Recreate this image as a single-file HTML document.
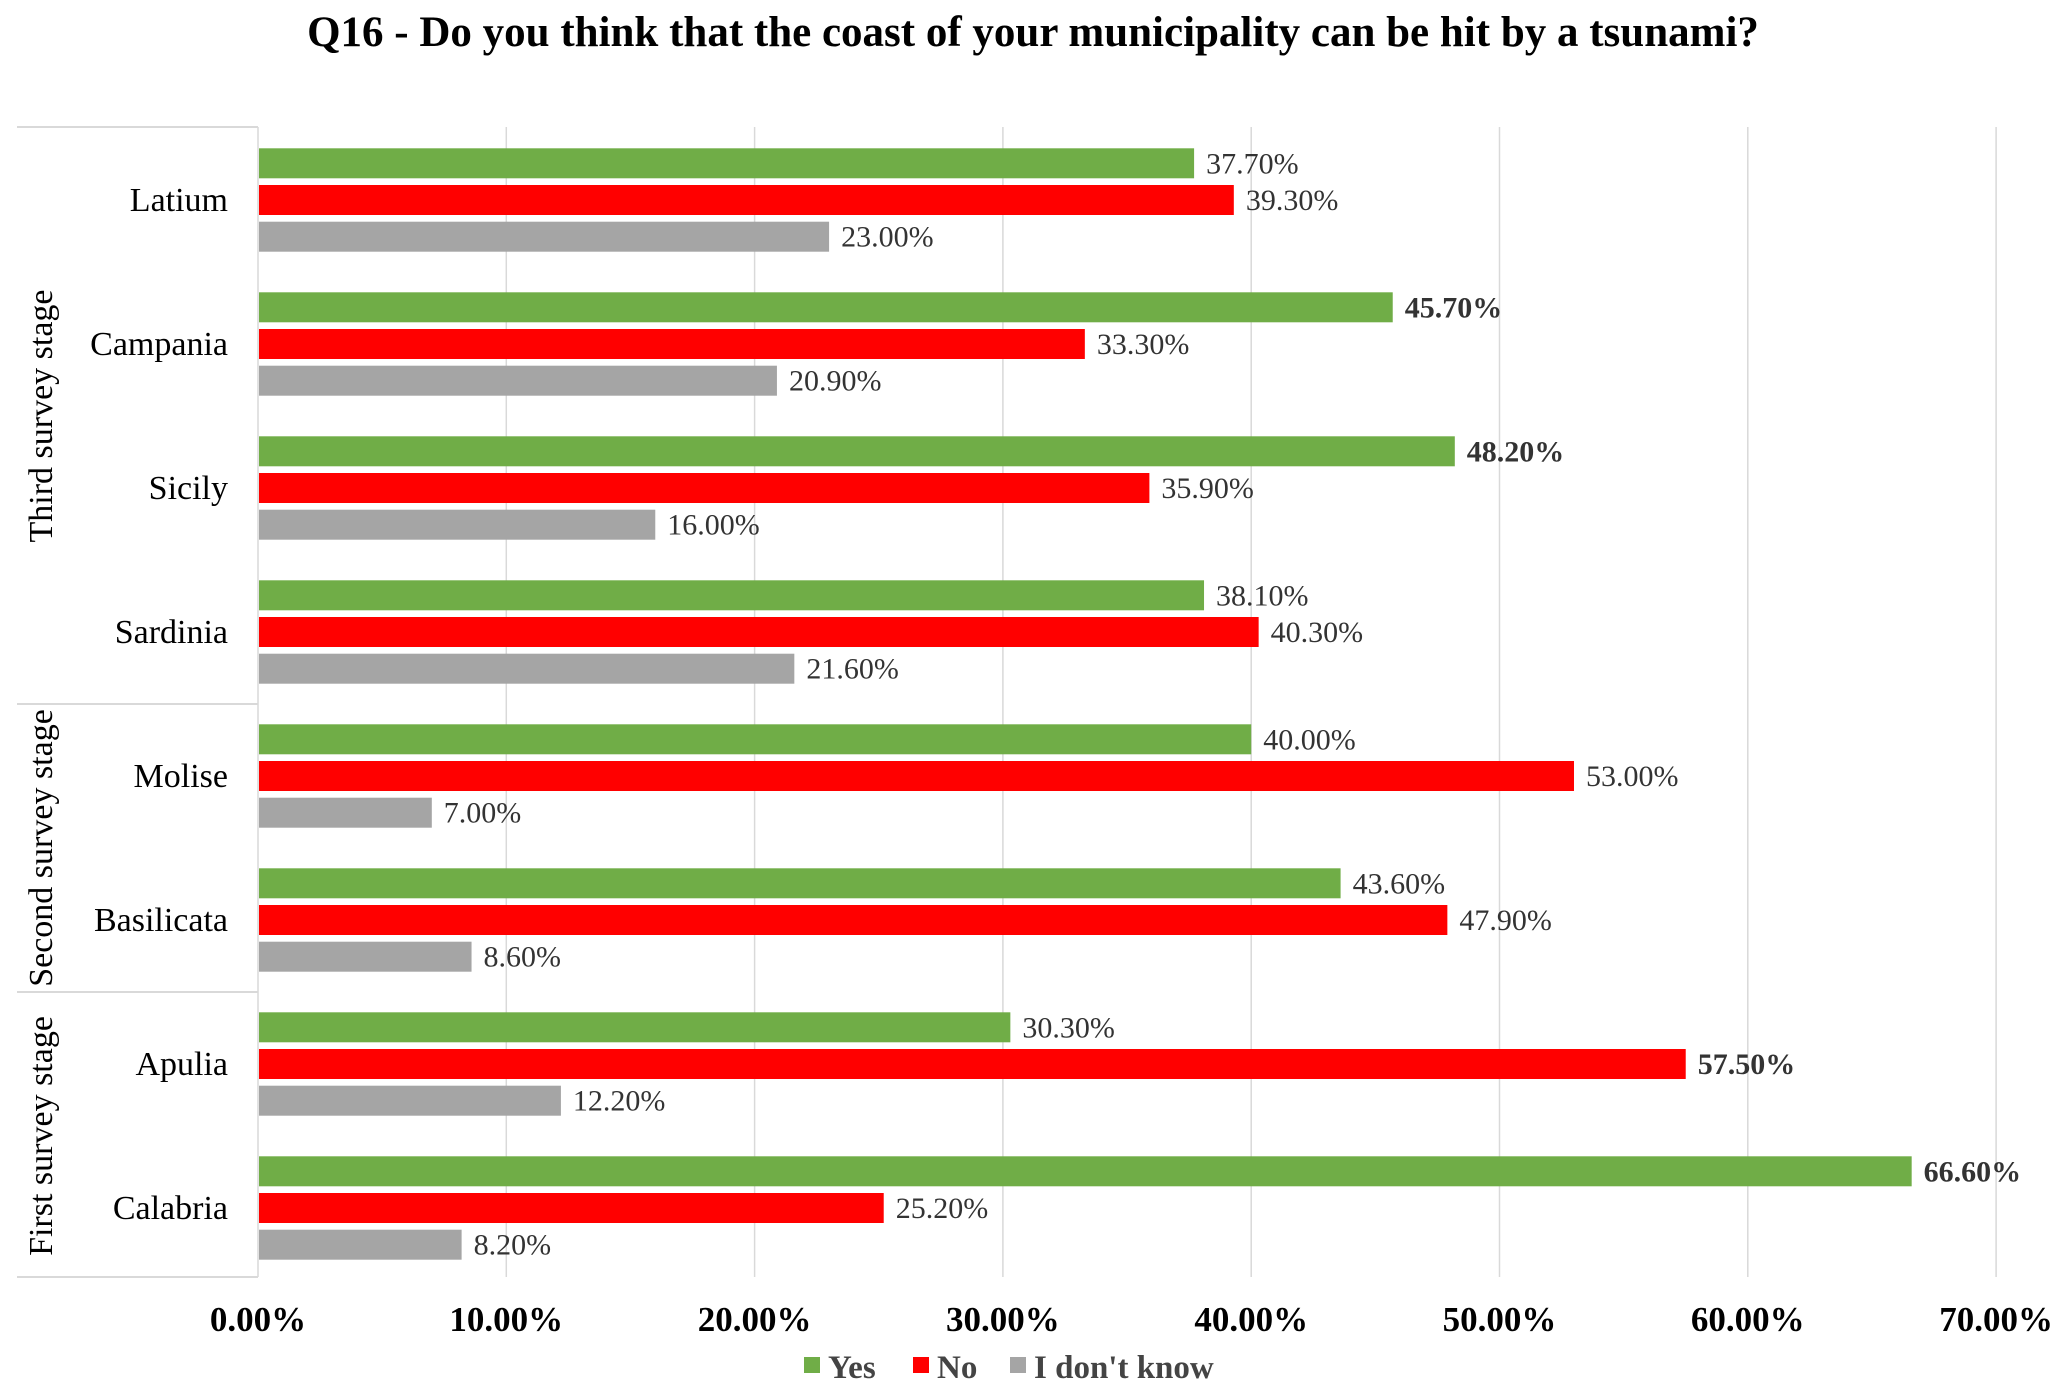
<!DOCTYPE html>
<html><head><meta charset="utf-8"><style>
html,body{margin:0;padding:0;background:#fff;}
svg{display:block;font-family:"Liberation Serif",serif;}
</style></head><body>
<svg id="chart" width="2067" height="1396" viewBox="0 0 2067 1396">
<text x="1033" y="46" text-anchor="middle" font-size="43" font-weight="bold">Q16 - Do you think that the coast of your municipality can be hit by a tsunami?</text>
<g id="grid"></g><g id="frame"></g><g id="bars"></g><g id="labels"></g><g id="legend"></g>
</svg>
<script>
const categories = ["Latium","Campania","Sicily","Sardinia","Molise","Basilicata","Apulia","Calabria"];
const yesValues = [37.7,45.7,48.2,38.1,40.0,43.6,30.3,66.6];
const noValues = [39.3,33.3,35.9,40.3,53.0,47.9,57.5,25.2];
const dkValues = [23.0,20.9,16.0,21.6,7.0,8.6,12.2,8.2];
const boldYes = [false,true,true,false,false,false,false,true];
const boldNo = [false,false,false,false,false,false,true,false];
const ticks = [0,10,20,30,40,50,60,70];
const groups = [{name:"Third survey stage",from:0,to:3},{name:"Second survey stage",from:4,to:5},{name:"First survey stage",from:6,to:7}];

const NS="http://www.w3.org/2000/svg";
const X0=258, PX=24.83, TOP=127, BOT=1277, Y0=200, STEP=144, BH=30, OFF=36.7;
const x=v=>X0+v*PX;
const yc=i=>Y0+i*STEP;
function mk(tag,attrs,parent,text){const e=document.createElementNS(NS,tag);for(const k in attrs)e.setAttribute(k,attrs[k]);if(text!==undefined)e.textContent=text;parent.appendChild(e);return e;}
const grid=document.getElementById('grid'),frame=document.getElementById('frame'),bars=document.getElementById('bars'),labels=document.getElementById('labels'),legend=document.getElementById('legend');

ticks.forEach(t=>{
  if(t>0){const l=mk('line',{x1:x(t),x2:x(t),y1:TOP,y2:BOT,stroke:'#d9d9d9','stroke-width':1.5},grid);
  
  }
  const tx=mk('text',{x:x(t),y:1331,'text-anchor':'middle','font-size':35,'font-weight':'bold'},labels,t.toFixed(2)+'%');
  
  
});
const ax=mk('line',{x1:X0,x2:X0,y1:TOP,y2:BOT,stroke:'#d9d9d9','stroke-width':1.5},frame);


const boundaries=[TOP, yc(4)-STEP/2, yc(6)-STEP/2, BOT];
boundaries.forEach((b,k)=>{const l=mk('line',{x1:17,x2:X0,y1:b,y2:b,stroke:'#d9d9d9','stroke-width':2},frame);
  
  });
groups.forEach(g=>{
  const cy=(yc(g.from)-STEP/2+yc(g.to)+STEP/2)/2;
  const t=mk('text',{x:0,y:0,transform:`translate(52,${cy}) rotate(-90)`,'text-anchor':'middle','font-size':34},labels,g.name);
  
  
});
const series=[{vals:yesValues,col:'#70ad47',d:-OFF,bold:boldYes,n:'yes'},{vals:noValues,col:'#ff0000',d:0,bold:boldNo,n:'no'},{vals:dkValues,col:'#a5a5a5',d:OFF,bold:null,n:'dont-know'}];
categories.forEach((c,i)=>{
  const t=mk('text',{x:228,y:yc(i)+11,'text-anchor':'end','font-size':34},labels,c);
  
  
  series.forEach(s=>{
    const v=s.vals[i];
    const r=mk('rect',{x:X0+1,y:yc(i)+s.d-BH/2,width:x(v)-X0-1,height:BH,fill:s.col},bars);
    
    
    const lt=mk('text',{x:x(v)+12,y:yc(i)+s.d+10,'font-size':30,fill:'#333','font-weight':(s.bold&&s.bold[i])?'bold':'normal'},labels,v.toFixed(2)+'%');
    
    
  });
});
const leg=[["Yes",'#70ad47',804],["No",'#ff0000',913],["I don't know",'#a5a5a5',1010]];
leg.forEach(l=>{
  const r=mk('rect',{x:l[2],y:1357,width:16,height:16,fill:l[1]},legend);
  
  
  const t=mk('text',{x:l[2]+24,y:1378,'font-size':33,'font-weight':'bold',fill:'#444'},legend,l[0]);
  
  
});
</script>
</body></html>
